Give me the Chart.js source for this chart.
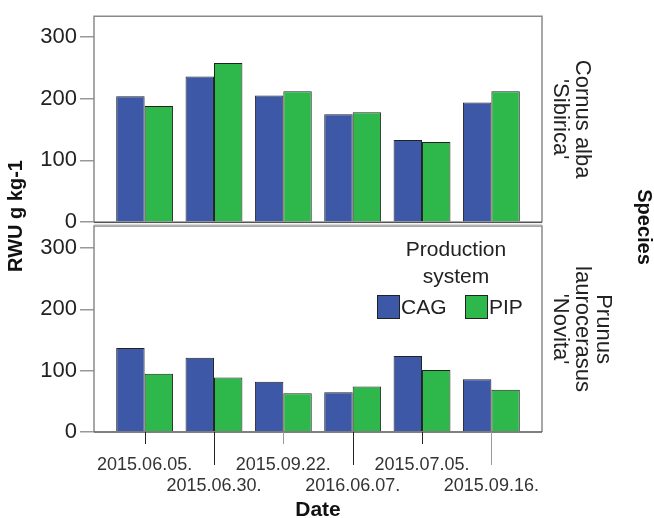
<!DOCTYPE html>
<html>
<head>
<meta charset="utf-8">
<script src="https://cdn.jsdelivr.net/npm/chart.js@4"></script>
<style>
  body { margin: 0; background: #fff; }
</style>
</head>
<body>
<canvas id="myChart" width="654" height="518"></canvas>
<script>
const dates = ['2015.06.05.', '2015.06.30.', '2015.09.22.', '2016.06.07.', '2015.07.05.', '2015.09.16.'];
const systems = ['CAG', 'PIP'];
const speciesTop = ['Cornus alba', "'Sibirica'"];
const speciesBottom = ['Prunus', 'laurocerasus', "'Novita'"];
const cornusCAG = [204, 236, 205, 175, 133, 194];
const cornusPIP = [188, 258, 212, 178, 130, 212];
const prunusCAG = [137, 121, 82, 65, 124, 86];
const prunusPIP = [95, 89, 63, 74, 101, 69];
const yTicks = [0, 100, 200, 300];

const blue = 'rgb(62, 88, 168)';
const green = 'rgb(46, 184, 75)';
const FONT = '"Liberation Sans", Arial, sans-serif';

const toPoints = arr => arr.map((v, i) => ({ x: i, y: v }));

function vText(ctx, lines, cx, cy, lineH, font, angle) {
  ctx.save();
  ctx.translate(cx, cy);
  ctx.rotate(angle);
  ctx.font = font;
  ctx.textAlign = 'center';
  ctx.textBaseline = 'middle';
  const n = lines.length;
  lines.forEach((t, k) => ctx.fillText(t, 0, (k - (n - 1) / 2) * lineH));
  ctx.restore();
}

const extras = {
  id: 'extras',
  afterDatasetsDraw(chart) {
    const ctx = chart.ctx;
    const area = chart.chartArea;
    const x = chart.scales.x;
    const y1 = chart.scales.y1;
    const y2 = chart.scales.y2;

    // panel frames
    ctx.save();
    ctx.lineWidth = 1.5;
    ctx.strokeStyle = '#8a8a8a';
    [[y1.top, y1.getPixelForValue(0)], [y2.top + 2, y2.getPixelForValue(0)]].forEach(([t, b]) => {
      ctx.beginPath();
      ctx.moveTo(area.left, b);
      ctx.lineTo(area.left, t);
      ctx.lineTo(area.right, t);
      ctx.lineTo(area.right, b);
      ctx.stroke();
    });
    ctx.strokeStyle = '#555';
    [y1.getPixelForValue(0), y2.getPixelForValue(0)].forEach(b => {
      ctx.beginPath();
      ctx.moveTo(area.left, b);
      ctx.lineTo(area.right, b);
      ctx.stroke();
    });
    ctx.strokeStyle = '#d8d8d8';
    ctx.beginPath();
    ctx.moveTo(area.left, y2.top + 0.5);
    ctx.lineTo(area.right, y2.top + 0.5);
    ctx.stroke();

    // staggered x tick marks
    const base = y2.getPixelForValue(0);
    ctx.lineWidth = 1;
    dates.forEach((d, i) => {
      const px = Math.round(x.getPixelForValue(i)) + 0.5;
      ctx.strokeStyle = (i === 2 || i === 5) ? '#999' : '#222';
      ctx.beginPath();
      ctx.moveTo(px, base);
      ctx.lineTo(px, base + (i % 2 ? 33 : 12));
      ctx.stroke();
    });

    // titles and facet labels
    ctx.fillStyle = '#111';
    vText(ctx, ['RWU g kg-1'], 16, 216, 20, 'bold 20px ' + FONT, -Math.PI / 2);
    ctx.font = 'bold 21px ' + FONT;
    ctx.textAlign = 'center';
    ctx.textBaseline = 'middle';
    ctx.fillText('Date', (area.left + area.right) / 2, 510);
    vText(ctx, ['Species'], 644, 227, 20, 'bold 20px ' + FONT, Math.PI / 2);

    ctx.fillStyle = '#222';
    const topMid = (y1.top + y1.getPixelForValue(0)) / 2;
    const botMid = (y2.top + 2 + y2.getPixelForValue(0)) / 2;
    vText(ctx, speciesTop, 571, topMid, 22, '22px ' + FONT, Math.PI / 2);
    vText(ctx, speciesBottom, 582, botMid, 21.5, '22px ' + FONT, Math.PI / 2);

    // legend inside the lower panel
    ctx.font = '21px ' + FONT;
    ctx.textAlign = 'center';
    ctx.fillText('Production', 456, 250);
    ctx.fillText('system', 456, 277);
    ctx.textAlign = 'left';
    const keys = [[377, blue], [465, green]];
    keys.forEach(([lx, col], k) => {
      ctx.fillStyle = col;
      ctx.fillRect(lx, 295, 22, 23);
      ctx.strokeStyle = '#222';
      ctx.lineWidth = 1;
      ctx.strokeRect(lx + 0.5, 295.5, 22, 23);
      ctx.fillStyle = '#222';
      ctx.fillText(systems[k], lx + 24, 308);
    });
    ctx.restore();
  }
};

const ctx = document.getElementById('myChart');

new Chart(ctx, {
  type: 'bar',
  data: {
    datasets: [
      { label: systems[0], data: toPoints(cornusCAG), yAxisID: 'y1', stack: 'cag', backgroundColor: blue },
      { label: systems[1], data: toPoints(cornusPIP), yAxisID: 'y1', stack: 'pip', backgroundColor: green },
      { label: systems[0], data: toPoints(prunusCAG), yAxisID: 'y2', stack: 'cag', backgroundColor: blue },
      { label: systems[1], data: toPoints(prunusPIP), yAxisID: 'y2', stack: 'pip', backgroundColor: green }
    ]
  },
  options: {
    responsive: false,
    animation: false,
    categoryPercentage: 0.82,
    barPercentage: 1,
    borderColor: '#222',
    borderWidth: 1,
    layout: { padding: { left: 0, right: 112, top: 12, bottom: 0 } },
    plugins: { legend: { display: false }, tooltip: { enabled: false } },
    scales: {
      x: {
        type: 'linear',
        offset: false,
        min: -0.73,
        max: 5.73,
        grid: { display: false, offset: false },
        border: { display: false },
        afterBuildTicks: s => { s.ticks = dates.map((d, i) => ({ value: i })); },
        afterFit: s => { s.height = 86; },
        ticks: {
          autoSkip: false,
          maxRotation: 0,
          padding: 14,
          color: '#333',
          font: { family: FONT, size: 18 },
          callback: (v, i) => (i % 2 ? ['', dates[i]] : dates[i])
        }
      },
      y1: {
        position: 'left',
        stack: 'panels',
        weight: 2,
        stacked: false,
        min: -3.2,
        max: 333.7,
        border: { display: false },
        grid: { drawOnChartArea: false, tickLength: 14, color: '#999', lineWidth: 1.5 },
        afterBuildTicks: s => { s.ticks = yTicks.map(v => ({ value: v })); },
        afterFit: s => { s.width = 94; },
        ticks: { padding: 3, color: '#222', font: { family: FONT, size: 22 } }
      },
      y2: {
        position: 'left',
        stack: 'panels',
        weight: 1,
        stacked: false,
        min: 0,
        max: 339,
        border: { display: false },
        grid: { drawOnChartArea: false, tickLength: 14, color: '#999', lineWidth: 1.5 },
        afterBuildTicks: s => { s.ticks = yTicks.map(v => ({ value: v })); },
        afterFit: s => { s.width = 94; },
        ticks: { padding: 3, color: '#222', font: { family: FONT, size: 22 } }
      }
    }
  },
  plugins: [extras]
});
</script>
</body>
</html>
